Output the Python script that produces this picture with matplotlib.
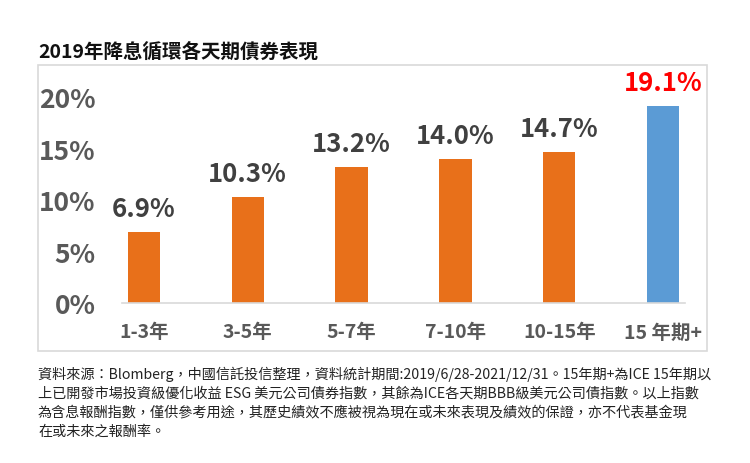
import matplotlib
matplotlib.use("Agg")
import matplotlib.pyplot as plt
from matplotlib.patches import Rectangle

plt.rcParams['font.family'] = ['Noto Sans CJK TC', 'DejaVu Sans']

categories = ['1-3年', '3-5年', '5-7年', '7-10年', '10-15年', '15 年期+']
values = [6.9, 10.3, 13.2, 14.0, 14.7, 19.1]
value_labels = ['6.9%', '10.3%', '13.2%', '14.0%', '14.7%', '19.1%']
yticks = [0, 5, 10, 15, 20]
ytick_labels = ['0%', '5%', '10%', '15%', '20%']
title = '2019年降息循環各天期債券表現'
footnote = [
    '資料來源：Blomberg，中國信託投信整理，資料統計期間:2019/6/28-2021/12/31。15年期+為ICE 15年期以',
    '上已開發市場投資級優化收益 ESG 美元公司債券指數，其餘為ICE各天期BBB級美元公司債指數。以上指數',
    '為含息報酬指數，僅供參考用途，其歷史績效不應被視為現在或未來表現及績效的保證，亦不代表基金現',
    '在或未來之報酬率。',
]

W, H = 750, 464
fig = plt.figure(figsize=(W / 100, H / 100), dpi=100)

def fx(px):
    return px / W

def fy(py):
    return 1 - py / H

# outer box
fig.patches.append(Rectangle((fx(38), fy(352)), fx(707) - fx(38), fy(66) - fy(352),
                             transform=fig.transFigure, fill=False,
                             edgecolor='#D9D9D9', linewidth=1.2))

ax = fig.add_axes([fx(122), fy(304), fx(685) - fx(122), fy(67) - fy(304)])
colors = ['#E8701A'] * 5 + ['#5B9BD5']
x = list(range(len(categories)))
ax.bar(x, values, width=0.31, color=colors)
ax.set_xlim(-0.21, len(categories) - 1 + 0.21)
ax.set_ylim(0, 23)
for s in ['top', 'right', 'left']:
    ax.spines[s].set_visible(False)
ax.spines['bottom'].set_color('#D9D9D9')
ax.spines['bottom'].set_linewidth(1.2)
ax.set_yticks(yticks)
ax.set_yticklabels(ytick_labels, fontsize=19, fontweight='bold', color='#595959')
ax.set_xticks(x)
ax.set_xticklabels(categories, fontsize=14, fontweight='bold', color='#595959')
ax.tick_params(axis='y', length=0, pad=19)
ax.tick_params(axis='x', length=0, pad=14)

for i, (v, lab) in enumerate(zip(values, value_labels)):
    c = '#FF0000' if i == len(values) - 1 else '#404040'
    ax.annotate(lab, (i, v), xytext=(0, 7), textcoords='offset points',
                ha='center', va='bottom', fontsize=18.5, fontweight='heavy', color=c,
                annotation_clip=False)

fig.text(fx(38), fy(52), title, fontsize=14, fontweight='bold', color='#111111',
         va='center', ha='left')

for k, line in enumerate(footnote):
    fig.text(fx(38), fy(374 + k * 19.2), line, fontsize=10.2, color='#222222',
             va='center', ha='left')

fig.savefig('out.png', dpi=100)
